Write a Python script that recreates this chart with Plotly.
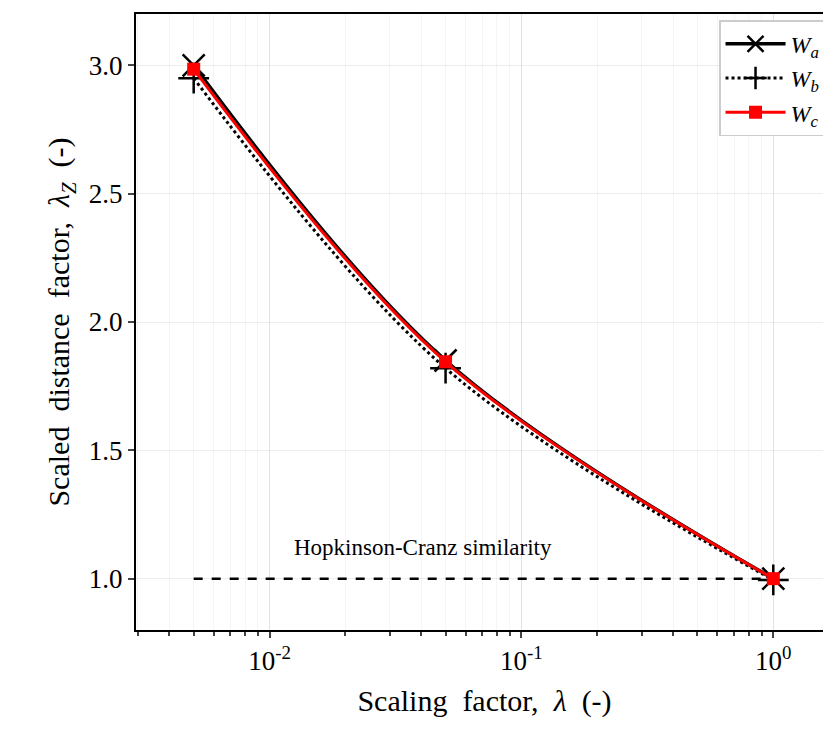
import plotly.graph_objects as go

lam = [0.005, 0.05, 1.0]
wa = [3.0, 1.85, 1.0]
wb = [2.95, 1.82, 0.995]
wc = [2.985, 1.845, 1.0]
hc_x = [0.005, 1.0]
hc_y = [1.0, 1.0]

font = "Liberation Serif"
fig = go.Figure()
fig.add_trace(go.Scatter(x=hc_x, y=hc_y, mode="lines", showlegend=False,
                         line=dict(color="black", dash="dash", width=2.5)))
fig.add_trace(go.Scatter(x=lam, y=wa, mode="lines+markers", name="<i>W<sub>a</sub></i>",
                         line=dict(color="black", width=3.5, shape="spline"),
                         marker=dict(symbol="x-thin", size=22, line=dict(width=2.5, color="black"))))
fig.add_trace(go.Scatter(x=lam, y=wb, mode="lines+markers", name="<i>W<sub>b</sub></i>",
                         line=dict(color="black", width=3, dash="dot", shape="spline"),
                         marker=dict(symbol="cross-thin", size=22, line=dict(width=2.5, color="black"))))
fig.add_trace(go.Scatter(x=lam, y=wc, mode="lines+markers", name="<i>W<sub>c</sub></i>",
                         line=dict(color="red", width=3, shape="spline"),
                         marker=dict(symbol="square", size=13, color="red")))
fig.add_annotation(x=-1.39, y=1.12, xref="x", yref="y", text="Hopkinson-Cranz similarity",
                   showarrow=False, font=dict(size=23, color="black", family=font))

ax = dict(showline=True, linecolor="black", linewidth=2, mirror=True, ticks="outside",
          tickwidth=1.5, ticklen=6, gridcolor="rgba(0,0,0,0.07)", zeroline=False,
          tickfont=dict(size=27, family=font, color="black"))
fig.update_xaxes(type="log", range=[-2.53, 0.237], tickvals=[0.01, 0.1, 1],
                 ticktext=["10<sup>-2</sup>", "10<sup>-1</sup>", "10<sup>0</sup>"],
                 minor=dict(ticks="outside", ticklen=4, dtick="D1", showgrid=True,
                            gridcolor="rgba(0,0,0,0.04)"),
                 title=dict(text="Scaling  factor,  <i>λ</i>  (-)", font=dict(size=30, family=font)),
                 **ax)
fig.update_yaxes(range=[0.8, 3.2], tickvals=[1.0, 1.5, 2.0, 2.5, 3.0], tickformat=".1f",
                 title=dict(text="Scaled  distance  factor,  <i>λ<sub>Z</sub></i>  (-)",
                            font=dict(size=30, family=font), standoff=10),
                 **ax)
fig.update_layout(width=831, height=733, plot_bgcolor="white", paper_bgcolor="white",
                  margin=dict(l=128, r=5, t=4, b=111),
                  font=dict(family=font, color="black"),
                  legend=dict(x=0.99, y=0.99, xanchor="right", yanchor="top",
                              bordercolor="#ccc", borderwidth=1.5, bgcolor="white",
                              itemwidth=60, font=dict(size=24, family=font)))
fig.write_html("out.html")
